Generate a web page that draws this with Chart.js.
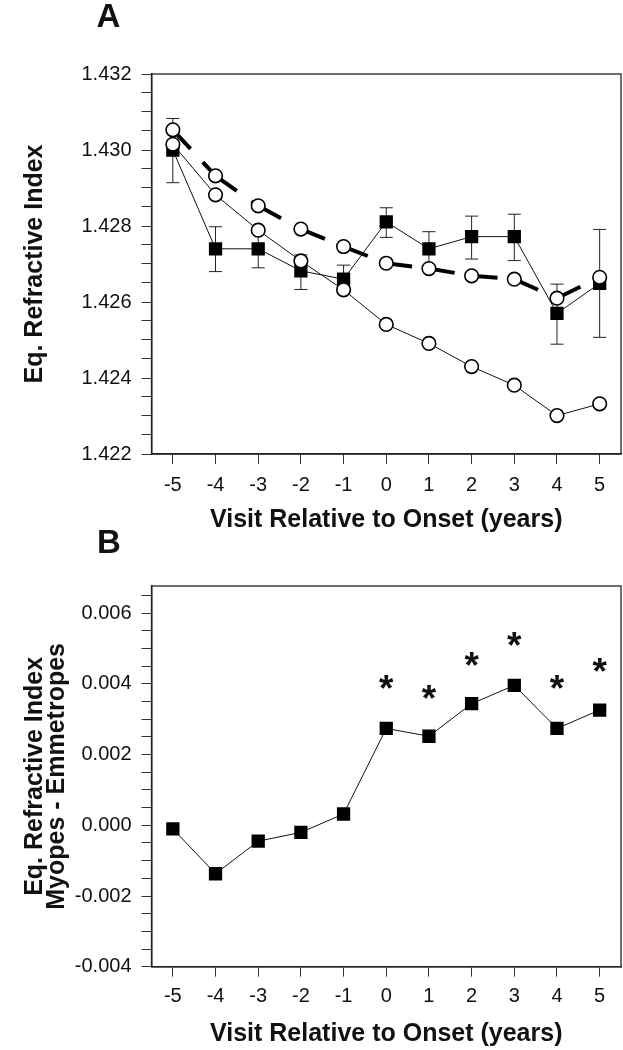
<!DOCTYPE html>
<html><head><meta charset="utf-8">
<script src="https://cdn.jsdelivr.net/npm/chart.js@4.4.1/dist/chart.umd.min.js"></script>
<style>
html,body{margin:0;padding:0;background:#fff;}
#wrap{position:relative;width:623px;height:1050px;overflow:hidden;background:#fff;}
canvas{position:absolute;left:0;}
#cA{top:0;}
#cB{top:525px;}
</style></head><body>
<div id="wrap"><canvas id="cA" width="623" height="545"></canvas><canvas id="cB" width="623" height="525"></canvas></div>
<script>
// ---------- data ----------
const visits = [-5, -4, -3, -2, -1, 0, 1, 2, 3, 4, 5];
// Panel A: filled squares with error bars
const squaresA   = [1.43000, 1.42740, 1.42740, 1.42682, 1.42660, 1.42811, 1.42740, 1.42772, 1.42772, 1.42570, 1.42649];
const squaresHiA = [1.43083, 1.42798, 1.42790, 1.42724, 1.42697, 1.42848, 1.42785, 1.42826, 1.42831, 1.42647, 1.42791];
const squaresLoA = [1.42914, 1.42680, 1.42690, 1.42633, 1.42623, 1.42770, 1.42695, 1.42713, 1.42709, 1.42489, 1.42507];
// Panel A: open circles, thin solid line
const circlesSolidA  = [1.43015, 1.42882, 1.42789, 1.42708, 1.42632, 1.42541, 1.42491, 1.42430, 1.42381, 1.42301, 1.42332];
// Panel A: open circles, thick dashed line
const circlesDashedA = [1.43053, 1.42932, 1.42853, 1.42792, 1.42746, 1.42702, 1.42688, 1.42669, 1.42660, 1.42610, 1.42665];
const yMajorA = [1.422, 1.424, 1.426, 1.428, 1.430, 1.432];
// Panel B: difference myopes - emmetropes
const diffB = [-0.00010, -0.00137, -0.00045, -0.00020, 0.00032, 0.00274, 0.00252, 0.00344, 0.00396, 0.00274, 0.00326];
const starVisitsB = [0, 1, 2, 3, 4, 5];
const starLevelB  = [0.00407, 0.00379, 0.00474, 0.00530, 0.00409, 0.00455];
const yMajorB = [-0.004, -0.002, 0.000, 0.002, 0.004, 0.006];

// ---------- helpers ----------
const FONT = "'Liberation Sans', Arial, Helvetica, sans-serif";
const INK = '#111';
const AXIS = '#222';
function stepTicks(min, max, step) {
  const out = [];
  const n = Math.round((max - min) / step);
  for (let i = 0; i <= n; i++) out.push({value: Math.round((min + i * step) * 1e7) / 1e7});
  return out;
}
function isMajor(v, majors) { return majors.some(m => Math.abs(m - v) < 1e-7); }
function pts(ys) { return visits.map((x, i) => ({x: x, y: ys[i]})); }

const boxPlugin = {
  id: 'box',
  beforeDatasetsDraw(chart) {
    const {ctx, chartArea: a} = chart;
    ctx.save();
    ctx.strokeStyle = AXIS; ctx.lineWidth = 1.3;
    ctx.strokeRect(a.left, a.top, a.right - a.left, a.bottom - a.top);
    ctx.restore();
  }
};
function letterPlugin(letter, x, baseline) {
  return {
    id: 'letter' + letter,
    afterDraw(chart) {
      const ctx = chart.ctx;
      ctx.save();
      ctx.font = 'bold 33px ' + FONT;
      ctx.fillStyle = INK; ctx.textAlign = 'left'; ctx.textBaseline = 'alphabetic';
      ctx.fillText(letter, x, baseline);
      ctx.restore();
    }
  };
}
const errorBarPlugin = {
  id: 'errbars',
  beforeDatasetsDraw(chart) {
    const {ctx, scales: {x, y}} = chart;
    ctx.save();
    ctx.strokeStyle = '#222'; ctx.lineWidth = 1;
    visits.forEach((v, i) => {
      const px = x.getPixelForValue(v);
      const hi = y.getPixelForValue(squaresHiA[i]);
      const lo = y.getPixelForValue(squaresLoA[i]);
      ctx.beginPath();
      ctx.moveTo(px, hi); ctx.lineTo(px, lo);
      ctx.moveTo(px - 6.5, hi); ctx.lineTo(px + 6.5, hi);
      ctx.moveTo(px - 6.5, lo); ctx.lineTo(px + 6.5, lo);
      ctx.stroke();
    });
    ctx.restore();
  }
};
const starPlugin = {
  id: 'stars',
  afterDatasetsDraw(chart) {
    const {ctx, scales: {x, y}} = chart;
    ctx.save();
    ctx.font = 'bold 37px ' + FONT;
    ctx.fillStyle = INK; ctx.textAlign = 'center'; ctx.textBaseline = 'alphabetic';
    starVisitsB.forEach((v, i) => {
      ctx.fillText('*', x.getPixelForValue(v), y.getPixelForValue(starLevelB[i]) + 20);
    });
    ctx.restore();
  }
};

function xScale(height, labelPad, titlePad) {
  return {
    type: 'linear', min: -5.5, max: 5.5,
    afterBuildTicks: s => { s.ticks = visits.map(v => ({value: v})); },
    ticks: {callback: v => String(v), font: {family: FONT, size: 20}, color: INK, padding: labelPad, autoSkip: false, maxRotation: 0},
    grid: {drawOnChartArea: false, tickLength: 10, color: '#333', tickWidth: 1},
    border: {color: AXIS, width: 1.5},
    title: {display: true, text: 'Visit Relative to Onset (years)', font: {family: FONT, size: 25, weight: 'bold'}, color: INK, padding: {top: 0, bottom: titlePad}},
    afterFit: s => { s.height = height; s.paddingLeft = 0; s.paddingRight = 0; }
  };
}
function yScale(min, max, majors, titleText, titlePadTop, lineHeight) {
  return {
    type: 'linear', min: min, max: max,
    afterBuildTicks: s => { s.ticks = stepTicks(majors[0], Math.floor(max / 0.0005 + 1e-6) * 0.0005, 0.0005); },
    ticks: {callback: v => isMajor(v, majors) ? v.toFixed(3) : '', font: {family: FONT, size: 20}, color: INK, padding: 10, autoSkip: false},
    grid: {drawOnChartArea: false, tickLength: 10, color: '#333', tickWidth: 1},
    border: {color: AXIS, width: 1.5},
    title: {display: true, text: titleText, font: {family: FONT, size: 25, weight: 'bold', lineHeight: lineHeight}, color: INK, padding: {top: titlePadTop, bottom: 0}},
    afterFit: s => { s.width = 151.5; s.paddingTop = 0; s.paddingBottom = 0; }
  };
}

const common = {
  responsive: false, animation: false, devicePixelRatio: 1,
  plugins: {legend: {display: false}, tooltip: {enabled: false}}
};

// ---------- Panel A ----------
new Chart(document.getElementById('cA'), {
  type: 'line',
  data: {
    datasets: [
      {
        label: 'Open circles (dashed)', data: pts(circlesDashedA),
        borderColor: '#000', borderWidth: 4, borderDash: [26, 18], borderCapStyle: 'butt',
        segment: {
          borderDash: () => [26, 18],
          borderDashOffset: c => (c.p0DataIndex % 2) * 0.0001,
          borderWidth: () => 4,
          borderColor: () => '#000'
        },
        pointStyle: 'circle', pointRadius: 6.8, pointBackgroundColor: '#fff', pointBorderColor: '#000', pointBorderWidth: 1.6,
        tension: 0
      },
      {
        label: 'Open circles', data: pts(circlesSolidA),
        borderColor: '#111', borderWidth: 1,
        pointStyle: 'circle', pointRadius: 6.8, pointBackgroundColor: '#fff', pointBorderColor: '#000', pointBorderWidth: 1.6,
        tension: 0
      },
      {
        label: 'Filled squares', data: pts(squaresA),
        borderColor: '#111', borderWidth: 1,
        pointStyle: 'rect', pointRadius: 9.4, pointBackgroundColor: '#000', pointBorderWidth: 0,
        tension: 0
      }
    ]
  },
  options: Object.assign({}, common, {
    layout: {autoPadding: false, padding: {top: 74, right: 2, left: 0, bottom: 0}},
    scales: {
      x: xScale(91, 9, 10),
      y: yScale(1.422, 1.432, yMajorA, 'Eq. Refractive Index', 20.5, 1.2)
    }
  }),
  plugins: [boxPlugin, errorBarPlugin, letterPlugin('A', 96.5, 26.7)]
});

// ---------- Panel B ----------
new Chart(document.getElementById('cB'), {
  type: 'line',
  data: {
    datasets: [
      {
        label: 'Myopes - Emmetropes', data: pts(diffB),
        borderColor: '#111', borderWidth: 1,
        pointStyle: 'rect', pointRadius: 9.4, pointBackgroundColor: '#000', pointBorderWidth: 0,
        tension: 0
      }
    ]
  },
  options: Object.assign({}, common, {
    layout: {autoPadding: false, padding: {top: 61, right: 2, left: 0, bottom: 0}},
    scales: {
      x: xScale(83.3, 7.5, 0.6),
      y: yScale(-0.004, 0.00677, yMajorB, ['Eq. Refractive Index', 'Myopes - Emmetropes'], 24.5, 0.86)
    }
  }),
  plugins: [boxPlugin, starPlugin, letterPlugin('B', 97, 28.3)]
});
</script>
</body></html>
